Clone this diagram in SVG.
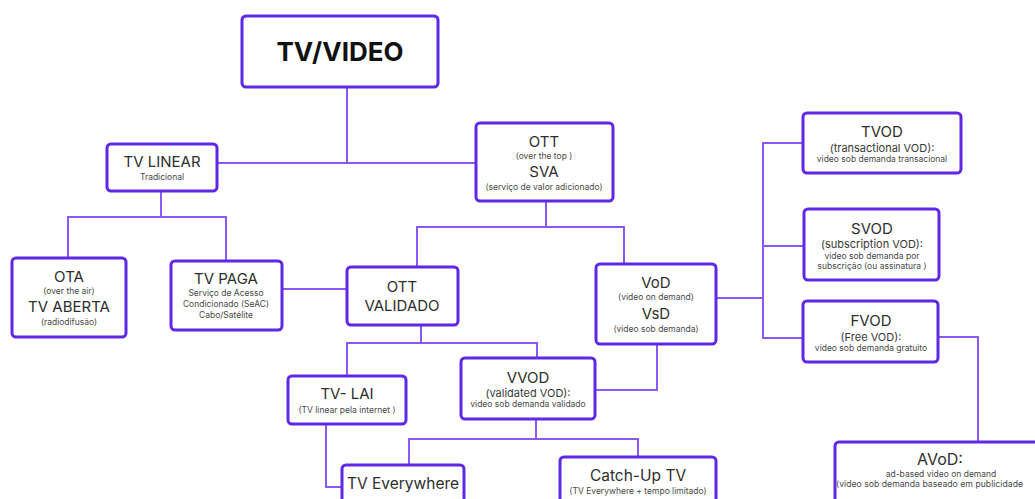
<svg xmlns="http://www.w3.org/2000/svg" width="1035" height="499" viewBox="0 0 1035 499">
<style>
.box{fill:#ffffff;stroke:#5f27e6;stroke-width:3;}
.ln{fill:none;stroke:#8a58f2;stroke-width:2;}
text{font-family:Inter,"Liberation Sans",sans-serif;text-anchor:middle;fill:#2e2e2e;}
.t{font-size:15px;}
.s{font-size:8.5px;fill:#484848;}
.m{font-size:11px;fill:#383838;}
.b{font-size:15.5px;}
</style>
<rect width="1035" height="499" fill="#ffffff"/>
<g id="connectors">
<path class="ln" d="M347 87 V163 M218 163 H476"/>
<path class="ln" d="M161 191 V217 M68 258 V217 H226 V261"/>
<path class="ln" d="M282 289 H347"/>
<path class="ln" d="M546 201 V227 M417 267 V227 H624 V264"/>
<path class="ln" d="M716 298 H763 M803 143 H763 V338 H803 M763 246 H804"/>
<path class="ln" d="M938 337 H978 V442"/>
<path class="ln" d="M421 325 V343 M347 376 V343 H537 V358"/>
<path class="ln" d="M657 344 V390 H595"/>
<path class="ln" d="M536 419 V439 M409 465 V439 H638 V457"/>
<path class="ln" d="M326 424 V487 H342"/>
</g>
<g id="tv-video">
<rect class="box" x="242" y="16" width="196" height="71" rx="4"/>
<text x="340" y="61" style="font-size:26px;font-weight:bold;fill:#111;">TV/VIDEO</text>
</g>
<g id="tv-linear">
<rect class="box" x="107" y="144" width="110" height="47" rx="4"/>
<text class="t" x="162" y="167">TV LINEAR</text>
<text class="s" x="162" y="180">Tradicional</text>
</g>
<g id="ott">
<rect class="box" x="476" y="123" width="137" height="78" rx="4"/>
<text class="t" x="544" y="147">OTT</text>
<text class="s" x="544" y="159">(over the top )</text>
<text class="t" x="544" y="177">SVA</text>
<text class="s" x="544" y="190">(serviço de valor adicionado)</text>
</g>
<g id="ota">
<rect class="box" x="12" y="258" width="114" height="79" rx="4"/>
<text class="t" x="69" y="282">OTA</text>
<text class="s" x="69" y="294">(over the air)</text>
<text class="t" x="69" y="312">TV ABERTA</text>
<text class="s" x="69" y="325">(radiodifusão)</text>
</g>
<g id="tv-paga">
<rect class="box" x="171" y="261" width="111" height="69" rx="4"/>
<text class="t" x="226" y="284">TV PAGA</text>
<text class="s" x="226" y="296">Serviço de Acesso</text>
<text class="s" x="226" y="307">Condicionado (SeAC)</text>
<text class="s" x="226" y="318">Cabo/Satélite</text>
</g>
<g id="ott-validado">
<rect class="box" x="347" y="267" width="111" height="58" rx="4"/>
<text class="t" x="402" y="292">OTT</text>
<text class="t" x="402" y="311">VALIDADO</text>
</g>
<g id="vod">
<rect class="box" x="596" y="264" width="120" height="80" rx="4"/>
<text class="t" x="656" y="288">VoD</text>
<text class="s" x="656" y="300">(video on demand)</text>
<text class="t" x="656" y="319">VsD</text>
<text class="s" x="656" y="332">(video sob demanda)</text>
</g>
<g id="tvod">
<rect class="box" x="803" y="113" width="158" height="60" rx="4"/>
<text class="t" x="882" y="137">TVOD</text>
<text class="m" x="882" y="152">(transactional VOD):</text>
<text class="s" x="882" y="162">video sob demanda transacional</text>
</g>
<g id="svod">
<rect class="box" x="804" y="209" width="135" height="71" rx="4"/>
<text class="t" x="872" y="234">SVOD</text>
<text class="m" x="872" y="248">(subscription VOD):</text>
<text class="s" x="872" y="259">video sob demanda por</text>
<text class="s" x="872" y="269">subscrição (ou assinatura )</text>
</g>
<g id="fvod">
<rect class="box" x="803" y="301" width="135" height="61" rx="4"/>
<text class="t" x="871" y="326">FVOD</text>
<text class="m" x="871" y="341">(Free VOD):</text>
<text class="s" x="871" y="351">video sob demanda gratuito</text>
</g>
<g id="tv-lai">
<rect class="box" x="288" y="376" width="118" height="48" rx="4"/>
<text class="t" x="347" y="399">TV- LAI</text>
<text class="s" x="347" y="413">(TV linear pela internet )</text>
</g>
<g id="vvod">
<rect class="box" x="461" y="358" width="134" height="61" rx="4"/>
<text class="t" x="528" y="383">VVOD</text>
<text class="m" x="528" y="397">(validated VOD):</text>
<text class="s" x="528" y="407">video sob demanda validado</text>
</g>
<g id="tv-everywhere">
<rect class="box" x="342" y="465" width="122" height="55" rx="4"/>
<text class="b" x="403" y="489">TV Everywhere</text>
</g>
<g id="catch-up">
<rect class="box" x="560" y="457" width="156" height="63" rx="4"/>
<text class="b" x="638" y="481">Catch-Up TV</text>
<text class="s" x="638" y="494">(TV Everywhere + tempo limitado)</text>
</g>
<g id="avod">
<rect class="box" x="835" y="442" width="210" height="78" rx="4"/>
<text x="940" y="465" style="font-size:16px;">AVoD:</text>
<text class="s" x="941" y="477">ad-based video on demand</text>
<text class="s" x="836" y="487" style="text-anchor:start;font-size:8.7px;">(video sob demanda baseado em publicidade</text>
</g>
</svg>
